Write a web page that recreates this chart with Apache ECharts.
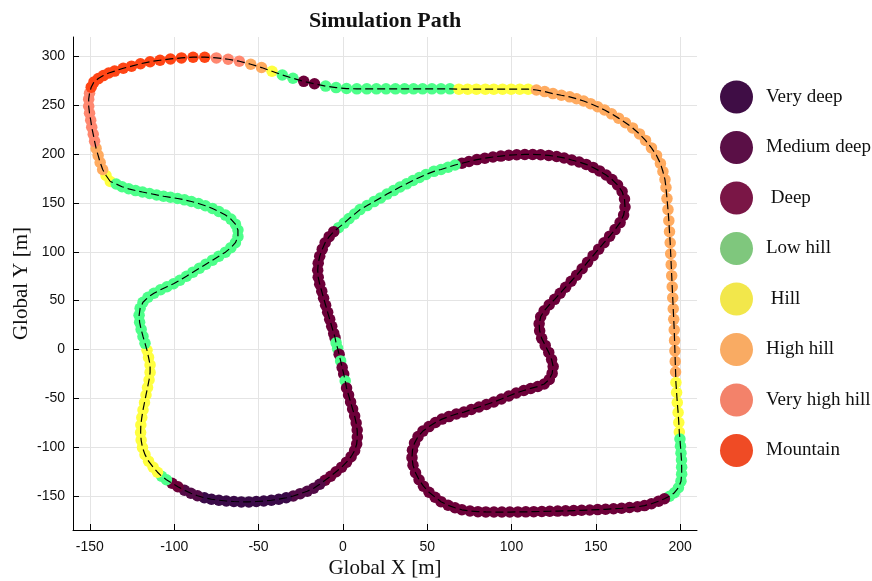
<!DOCTYPE html>
<html>
<head>
<meta charset="utf-8">
<script src="https://cdn.jsdelivr.net/npm/echarts@6/dist/echarts.min.js"></script>
<style>html,body{margin:0;padding:0;background:#fff}#c{width:872px;height:581px}</style>
</head>
<body>
<div id="c"></div>
<script>
const categories = ['Very deep', 'Medium deep', ' Deep', 'Low hill', ' Hill', 'High hill', 'Very high hill', 'Mountain'];
const plotColors = ['#3a0a48', '#520a46', '#6d0039', '#4dff8a', '#ffff40', '#ffab60', '#ff8870', '#ff4515'];
const legendColors = ['#3f0d45', '#5a0f46', '#7a1646', '#7fc77d', '#f2e74b', '#f9ab63', '#f3826a', '#ef4b25'];
const xTicks = [-150, -100, -50, 0, 50, 100, 150, 200];
const yTicks = [-150, -100, -50, 0, 50, 100, 150, 200, 250, 300];

// [x, y, category index] in driving order
const pathPoints = [
 [-137.9,172.0,4],[-140.4,178.1,4],
 [-142.4,184.3,5],[-143.9,191.5,5],[-145.1,198.7,5],[-146.3,205.9,5],
 [-147.2,213.1,6],[-148.0,220.3,6],[-148.9,227.5,6],[-149.5,234.7,6],[-150.2,241.9,6],[-150.7,249.1,6],[-150.7,256.3,6],[-150.2,262.4,6],
 [-149.2,268.6,7],[-147.6,273.8,7],[-145.0,277.4,7],[-142.0,280.5,7],[-138.8,283.1,7],[-135.3,285.1,7],
 [-130.2,288.0,7],[-125.3,290.1,7],[-120.0,292.6,7],[-114.3,294.7,7],[-108.4,296.2,7],[-102.2,297.5,7],[-95.7,298.6,7],[-88.8,299.3,7],[-81.9,299.3,7],
 [-75.0,298.6,6],[-68.0,297.2,6],[-61.4,295.2,6],
 [-54.6,292.1,5],[-48.2,288.7,5],
 [-42.0,284.9,4],
 [-35.9,281.1,3],[-29.6,277.7,3],
 [-23.2,274.6,2],[-16.8,272.1,2],
 [-10.2,269.7,3],[-4.0,268.2,3],[2.2,267.2,3],[8.3,266.9,3],[14.2,266.9,3],[19.9,266.9,3],[25.6,266.9,3],[31.2,266.9,3],[36.6,266.9,3],[41.9,266.9,3],[47.3,266.9,3],[52.8,266.9,3],[58.2,266.9,3],[63.5,266.9,3],
 [68.8,266.6,4],[74.0,266.6,4],[79.2,266.6,4],[84.5,266.6,4],[89.5,266.6,4],[94.7,266.6,4],[99.8,266.6,4],[104.9,266.6,4],[109.9,266.6,4],
 [114.8,265.7,5],[119.7,264.1,5],[124.6,262.0,5],[129.6,260.3,5],[134.5,258.7,5],[138.6,256.7,5],[142.8,254.4,5],[146.9,251.7,5],[151.1,248.6,5],[155.2,245.2,5],
 [159.3,241.3,5],[163.5,236.9,5],[167.6,232.2,5],[171.8,226.9,5],[175.9,220.7,5],[179.5,214.1,5],[183.0,206.4,5],[186.0,198.7,5],[188.3,190.5,5],[189.8,182.2,5],
 [191.0,174.0,5],[191.6,165.8,5],[192.2,154.5,5],[192.8,143.2,5],[193.3,131.9,5],[193.7,120.6,5],[194.1,109.3,5],[194.4,98.0,5],[194.7,86.8,5],[195.0,75.5,5],
 [195.3,64.2,5],[195.6,52.9,5],[195.9,41.6,5],[196.2,30.8,5],[196.5,20.0,5],[196.7,9.2,5],[196.9,-1.5,5],[197.1,-12.3,5],[197.3,-23.1,5],
 [197.5,-33.9,4],[197.9,-44.1,4],[198.3,-54.4,4],[198.8,-64.7,4],[199.2,-74.9,4],[199.5,-84.7,4],
 [199.9,-91.9,3],[200.2,-99.1,3],[200.5,-106.3,3],[200.8,-113.4,3],[200.9,-120.6,3],[200.9,-127.8,3],[200.5,-135.0,3],[199.0,-141.7,3],[196.6,-146.8,3],[193.7,-150.4,3],
 [190.7,-153.0,2],[187.2,-155.5,2],[183.0,-158.1,2],[178.9,-160.0,2],[174.7,-161.2,2],[170.0,-162.0,2],[165.3,-162.7,2],[160.5,-163.2,2],[155.8,-163.8,2],[151.1,-164.1,2],
 [146.4,-164.5,2],[141.6,-164.8,2],[136.9,-165.1,2],[132.1,-165.4,2],[127.4,-165.6,2],[122.7,-165.8,2],[118.0,-166.0,2],[113.2,-166.2,2],[108.5,-166.4,2],[103.8,-166.5,2],
 [99.0,-166.6,2],[94.3,-166.6,2],[89.6,-166.6,2],[84.8,-166.5,2],[80.1,-166.2,2],[75.4,-165.5,2],[70.6,-164.3,2],[66.5,-162.2,2],[62.4,-159.7,2],[58.2,-156.0,2],
 [54.7,-151.4,2],[51.1,-146.3,2],[47.8,-140.1,2],[45.2,-133.5,2],[43.1,-126.3,2],[41.6,-118.6,2],[41.0,-110.9,2],[41.3,-103.2,2],[42.5,-96.0,2],[44.6,-89.3,2],
 [47.5,-83.7,2],[51.1,-79.1,2],[54.9,-74.9,2],[58.8,-71.4,2],[62.9,-68.8,2],[67.3,-66.2,2],[71.8,-64.2,2],[76.2,-61.6,2],[80.7,-59.0,2],[85.1,-56.5,2],
 [89.5,-53.9,2],[94.0,-50.8,2],[98.4,-47.7,2],[102.8,-44.7,2],[107.3,-42.1,2],[111.4,-40.0,2],[115.6,-38.0,2],[119.4,-35.4,2],[122.4,-30.8,2],[124.1,-24.6,2],
 [124.7,-17.5,2],[123.8,-10.3,2],[122.1,-3.1,2],[120.0,4.1,2],[117.9,11.3,2],[116.7,19.0,2],[116.4,26.2,2],[117.3,33.4,2],[119.4,39.5,2],[122.4,45.7,2],
 [125.6,51.3,2],[128.9,57.5,2],[132.1,63.7,2],[135.4,69.8,2],[138.6,76.0,2],[141.9,82.6,2],[145.1,89.3,2],[148.4,96.0,2],[151.7,102.7,2],[154.9,109.3,2],
 [158.2,116.0,2],[161.4,122.7,2],[164.4,129.9,2],[166.5,137.6,2],[167.3,145.8,2],[167.0,154.0,2],[165.6,161.7,2],[162.9,168.4,2],[159.6,174.0,2],[156.1,178.6,2],
 [152.2,182.8,2],[148.4,186.4,2],[144.3,189.5,2],[140.1,192.0,2],[135.7,194.0,2],[131.2,196.1,2],[126.8,197.6,2],[122.1,198.7,2],[117.3,199.4,2],[112.6,199.7,2],
 [107.9,199.7,2],[103.1,199.4,2],[98.4,198.9,2],[93.7,198.0,2],[89.0,197.1,2],[84.2,195.8,2],[79.5,194.4,2],[74.8,192.5,2],[70.6,190.7,2],
 [66.5,188.9,3],[62.4,186.6,3],[58.2,184.3,3],[54.0,182.4,3],[49.3,179.2,3],[45.4,176.1,3],[41.6,173.0,3],[37.8,169.6,3],[33.9,166.3,3],[30.1,162.7,3],
 [26.2,159.1,3],[22.4,155.2,3],[18.5,151.4,3],[14.4,147.3,3],[10.2,143.2,3],[7.0,138.6,3],[3.7,134.0,3],[0.8,129.4,3],[-2.5,124.7,3],
 [-5.4,120.6,2],[-8.1,115.5,2],[-10.5,109.3,2],[-12.2,102.7,2],[-13.7,95.5,2],[-14.6,88.3,2],[-14.9,81.1,2],[-14.6,73.9,2],[-13.7,66.7,2],[-12.5,59.5,2],
 [-11.4,52.4,2],[-10.2,45.2,2],[-9.0,38.0,2],[-7.8,30.8,2],[-6.6,23.6,2],[-5.4,16.4,2],[-4.6,11.8,2],
 [-4.0,6.7,3],[-3.1,1.0,3],
 [-2.2,-5.1,2],
 [-1.3,-11.8,3],
 [-0.4,-18.5,2],[0.5,-25.2,2],
 [1.4,-32.3,3],
 [2.2,-39.5,2],[3.4,-46.7,2],[4.6,-53.9,2],[5.8,-61.1,2],[7.0,-68.3,2],[7.9,-75.5,2],[8.5,-82.6,2],[8.6,-89.8,2],[8.2,-97.0,2],[7.0,-103.7,2],
 [4.9,-109.9,2],[2.2,-115.5,2],[-0.7,-120.6,2],[-4.0,-125.3,2],[-7.2,-129.9,2],[-10.5,-134.0,2],
 [-13.7,-138.1,1],[-17.3,-142.2,1],[-21.1,-145.3,1],[-25.3,-147.8,1],[-29.4,-150.2,1],
 [-33.6,-152.0,0],[-38.0,-153.5,0],[-42.4,-154.5,0],[-46.9,-155.3,0],[-51.3,-155.8,0],[-55.7,-156.2,0],[-60.2,-156.2,0],[-64.6,-155.8,0],[-69.1,-155.3,0],[-73.5,-154.5,0],
 [-77.9,-153.5,0],[-82.1,-152.0,0],
 [-86.2,-149.9,1],[-90.1,-147.3,1],[-93.9,-144.3,1],
 [-97.8,-140.7,2],[-101.3,-137.1,2],
 [-104.6,-133.5,3],[-107.5,-129.9,3],
 [-109.9,-125.8,4],[-112.5,-120.6,4],[-115.2,-114.5,4],[-117.3,-107.8,4],[-118.8,-100.6,4],[-119.6,-92.9,4],[-119.9,-85.2,4],[-119.8,-77.5,4],[-119.2,-69.8,4],[-118.5,-62.1,4],
 [-117.6,-54.4,4],[-116.7,-46.7,4],[-115.8,-39.0,4],[-114.9,-31.3,4],[-114.3,-23.6,4],[-114.3,-15.9,4],[-115.2,-8.2,4],[-116.1,-1.0,4],
 [-117.3,6.2,3],[-118.5,13.3,3],[-119.6,20.5,3],[-120.5,27.7,3],[-120.8,34.9,3],[-120.2,42.1,3],[-118.5,48.3,3],[-115.5,53.4,3],[-112.0,57.5,3],[-108.1,61.1,3],
 [-104.3,64.2,3],[-100.4,67.2,3],[-96.6,70.8,3],[-92.7,74.9,3],[-88.9,79.1,3],[-85.0,83.2,3],[-81.2,87.3,3],[-77.3,91.4,3],[-73.5,95.5,3],[-69.6,99.6,3],
 [-66.4,104.2,3],[-63.7,109.3,3],[-62.2,115.5,3],[-62.2,122.2,3],[-63.7,128.3,3],[-66.4,133.5,3],[-69.6,137.6,3],[-73.5,141.2,3],[-77.3,144.3,3],[-81.5,147.1,3],
 [-85.6,149.4,3],[-89.8,151.5,3],[-93.9,153.2,3],[-98.0,154.6,3],[-102.2,155.8,3],[-106.3,156.9,3],[-110.4,158.2,3],[-114.6,159.7,3],[-118.8,161.2,3],[-122.9,162.7,3],
 [-127.0,164.5,3],[-130.9,166.6,3],[-134.4,169.4,3]
];

const serif = 'Liberation Serif';
const sans = 'Liberation Sans';

const scatterData = pathPoints.map(p => ({ value: [p[0], p[1]], itemStyle: { color: plotColors[p[2]] } }));
const lineData = pathPoints.map(p => [p[0], p[1]]);
lineData.push([pathPoints[0][0], pathPoints[0][1]]);

const legendSeries = categories.map((c, i) => ({
  type: 'scatter', name: c, data: [], itemStyle: { color: legendColors[i], opacity: 1 }
}));

const chart = echarts.init(document.getElementById('c'), null, { renderer: 'canvas' });
chart.setOption({
  animation: false,
  backgroundColor: '#ffffff',
  title: {
    text: 'Simulation Path', left: 309, top: 10, padding: 0,
    textStyle: { fontFamily: serif, fontWeight: 'bold', fontSize: 22, color: '#111' }
  },
  legend: {
    orient: 'vertical', left: 720, top: 80.5, padding: 0,
    itemWidth: 33, itemHeight: 33, itemGap: 17.5, icon: 'circle',
    data: categories,
    itemStyle: { opacity: 1 },
    textStyle: { fontFamily: serif, fontSize: 19, color: '#111', padding: [0, 0, 0, 8] }
  },
  grid: { left: 73, right: 175, top: 37, bottom: 51, containLabel: false, outerBoundsMode: 'none' },
  xAxis: {
    type: 'value', min: -160, max: 210,
    name: 'Global X [m]', nameLocation: 'middle', nameGap: 28, nameMoveOverlap: false,
    nameTextStyle: { fontFamily: serif, fontSize: 21, color: '#111' },
    axisLine: { onZero: false, lineStyle: { color: '#000', width: 1 } },
    axisTick: { show: true, inside: true, length: 6, customValues: xTicks, lineStyle: { color: '#000' } },
    axisLabel: { customValues: xTicks, margin: 10, fontFamily: sans, fontSize: 14, color: '#111' },
    splitLine: { show: true, lineStyle: { color: '#e4e4e4', width: 1 } }
  },
  yAxis: {
    type: 'value', min: -185, max: 320,
    name: 'Global Y [m]', nameLocation: 'middle', nameGap: 41, nameRotate: 90, nameMoveOverlap: false,
    nameTextStyle: { fontFamily: serif, fontSize: 21, color: '#111' },
    axisLine: { show: true, onZero: false, lineStyle: { color: '#000', width: 1 } },
    axisTick: { show: true, inside: true, length: 6, customValues: yTicks, lineStyle: { color: '#000' } },
    axisLabel: { customValues: yTicks, margin: 8, fontFamily: sans, fontSize: 14, color: '#111' },
    splitLine: { show: true, lineStyle: { color: '#e4e4e4', width: 1 } }
  },
  series: [
    {
      type: 'scatter', name: 'path points', data: scatterData,
      symbol: 'circle', symbolSize: 11.5, z: 2,
      itemStyle: { opacity: 1 }, emphasis: { disabled: true }
    },
    {
      type: 'line', name: 'path', data: lineData, showSymbol: false, z: 3,
      lineStyle: { color: '#000', width: 1.2, type: [8, 4] }, emphasis: { disabled: true }
    }
  ].concat(legendSeries)
});
</script>
</body>
</html>
